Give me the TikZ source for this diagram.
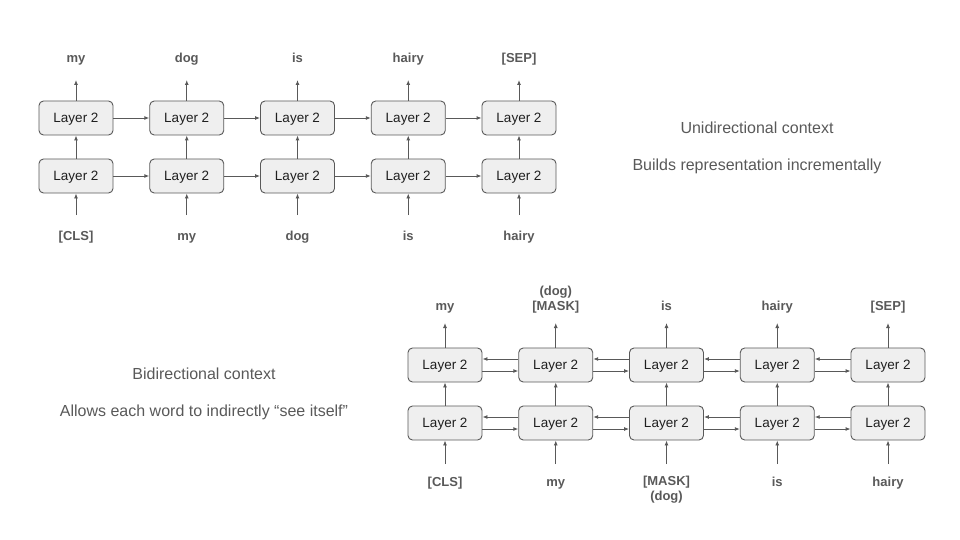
\documentclass[tikz,border=0pt]{standalone}
\usepackage{fontspec}
\setmainfont{Liberation Sans}
\usetikzlibrary{arrows.meta}
\usetikzlibrary{positioning}
\definecolor{ink}{HTML}{595959}
\definecolor{boxfill}{HTML}{EFEFEF}
\tikzset{
    layer/.style = {draw=ink,fill=boxfill,line width=0.9pt,rounded corners=4.5pt,minimum width=74pt,minimum height=34pt,inner sep=0,text depth=0pt,font=\fontsize{13.5}{16}\selectfont,text=black!88},
    tok/.style = {font=\fontsize{13}{15}\selectfont\bfseries,text=ink,align=center,inner sep=0},
    note/.style = {font=\fontsize{16}{19}\selectfont,text=ink}
}
\tikzset{
    flow/.style = {draw=ink,line width=0.9pt,-{Latex[length=5pt,width=4pt]}}
}

\begin{document}
\begin{tikzpicture}[x=1pt,y=-1pt]
        \useasboundingbox (0,0) rectangle (960,540);
        \newcommand\hsep{110.75}
        \newcommand\bsep{110.75}
        % Unidirectional stack
        \foreach \i in {1,...,5} {
            \node[layer] (ulo\i) at ({76+(\i-1)*\hsep},176) {Layer 2};
            \node[layer] (uhi\i) at ({76+(\i-1)*\hsep},118) {Layer 2};
            \coordinate (uin\i) at ({76+(\i-1)*\hsep},215);
            \coordinate (uout\i) at ({76+(\i-1)*\hsep},80);
        }
        % Unidirectional tokens
        \foreach \i/\w in {1/{[CLS]},2/my,3/dog,4/is,5/hairy}
            \node[tok,anchor=base] (uw\i) at ({76+(\i-1)*\hsep},240) {\w};
        \foreach \i/\w in {1/my,2/dog,3/is,4/hairy,5/{[SEP]}}
            \node[tok,anchor=base] (up\i) at ({76+(\i-1)*\hsep},63) {\w};
        % Bidirectional stack
        \foreach \i in {1,...,5} {
            \node[layer] (blo\i) at ({445+(\i-1)*\bsep},423) {Layer 2};
            \node[layer] (bhi\i) at ({445+(\i-1)*\bsep},365) {Layer 2};
            \coordinate (bin\i) at ({445+(\i-1)*\bsep},464);
            \coordinate (bout\i) at ({445+(\i-1)*\bsep},323);
        }
        % Bidirectional tokens
        \foreach \i/\w in {1/{[CLS]},2/my,4/is,5/hairy}
            \node[tok,anchor=base] (bw\i) at ({445+(\i-1)*\bsep},486) {\w};
        \node[tok] (bw3) at ({445+2*\bsep},490) {[MASK]\\(dog)};
        \foreach \i/\w in {1/my,3/is,4/hairy,5/{[SEP]}}
            \node[tok,anchor=base] (bp\i) at ({445+(\i-1)*\bsep},310) {\w};
        \node[tok] (bp2) at ({445+\bsep},299.5) {(dog)\\{[MASK]}};
        % Vertical flow
        \foreach \s in {u,b}
            \foreach \i in {1,...,5} {
                \draw[flow] (\s in\i) -- (\s lo\i);
                \draw[flow] (\s lo\i) -- (\s hi\i);
                \draw[flow] (\s hi\i) -- (\s out\i);
            }
        % Left to right only
        \foreach \src/\dest in {1/2,2/3,3/4,4/5} {
            \draw[flow] (ulo\src) -- (ulo\dest);
            \draw[flow] (uhi\src) -- (uhi\dest);
        }
        % Both ways
        \foreach \src/\dest in {1/2,2/3,3/4,4/5}
            \foreach \r in {lo,hi} {
                \draw[flow] ([yshift=-6pt]b\r\src.east) -- ([yshift=-6pt]b\r\dest.west);
                \draw[flow] ([yshift=6pt]b\r\dest.west) -- ([yshift=6pt]b\r\src.east);
            }
        % Captions
        \node[note] (uni) at (757,128) {Unidirectional context};
        \node[note] (unidesc) at (757,166) {Builds representation incrementally};
        \node[note] (bi) at (204,374) {Bidirectional context};
        \node[note] (bidesc) at (204,412) {Allows each word to indirectly “see itself”};
\end{tikzpicture}
\end{document}
